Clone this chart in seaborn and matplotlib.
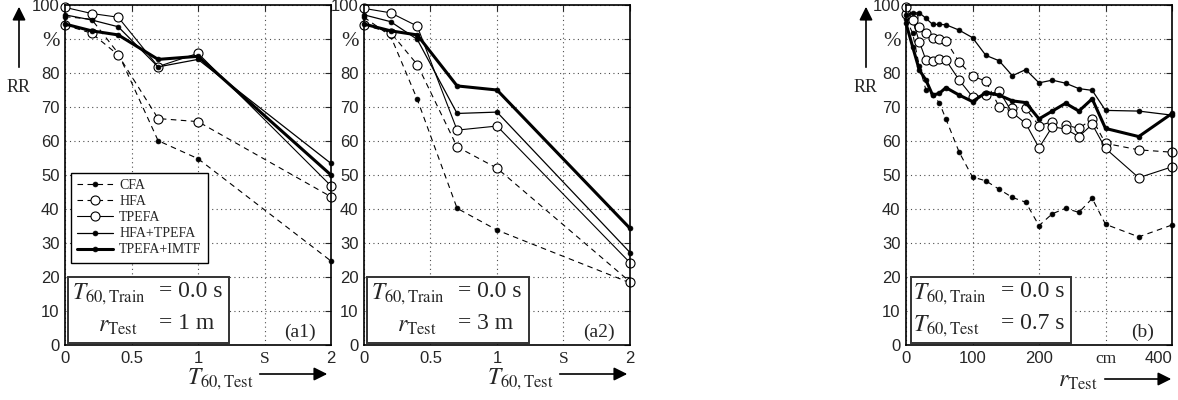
import matplotlib
matplotlib.use('Agg')
import matplotlib.pyplot as plt
import seaborn as sns
from matplotlib.patches import Rectangle, FancyArrowPatch

# panel (a1)/(a2): T60,Test in s
t60_test = [0, 0.2, 0.4, 0.7, 1.0, 2.0]

# (a1) r_Test = 1 m
a1_cfa = [96.6, 95.8, 85.8, 60.1, 54.8, 24.7]
a1_hfa = [94.1, 91.7, 85.3, 66.6, 65.7, 43.6]
a1_tpefa = [99.3, 97.5, 96.4, 81.9, 85.8, 46.8]
a1_hfa_tpefa = [97.1, 95.6, 93.6, 81.8, 84.0, 53.4]
a1_imtf = [94.4, 92.4, 91.2, 84.0, 84.9, 50.0]

# (a2) r_Test = 3 m
a2_cfa = [96.4, 90.9, 72.3, 40.2, 33.8, 18.3]
a2_hfa = [94.1, 91.9, 82.5, 58.3, 52.0, 18.6]
a2_tpefa = [99.0, 97.7, 93.8, 63.2, 64.4, 24.2]
a2_hfa_tpefa = [97.1, 95.1, 89.9, 68.1, 68.5, 27.2]
a2_imtf = [94.4, 92.4, 91.2, 76.2, 75.0, 34.3]

# panel (b): r_Test in cm
r_test = [0, 10, 20, 30, 40, 50, 60, 80, 100, 120, 140, 160, 180, 200, 220, 240, 260, 280, 300, 350, 400]
b_cfa = [96.0, 91.7, 82.0, 75.0, 73.5, 71.3, 66.5, 56.7, 49.4, 48.3, 45.8, 43.4, 42.0, 35.1, 38.6,
         40.2, 39.0, 43.1, 35.5, 31.8, 35.3]
b_hfa = [97.5, 96.5, 93.6, 91.7, 90.4, 89.9, 89.5, 83.2, 79.1, 77.6, 70.1, 69.6, 69.6, 64.5, 65.7,
         64.7, 63.7, 66.5, 59.3, 57.4, 56.7]
b_tpefa = [99.5, 95.5, 89.2, 83.8, 83.5, 84.2, 83.8, 77.9, 73.0, 73.5, 74.7, 68.3, 65.2, 58.0, 64.2,
           63.5, 61.3, 64.9, 57.8, 49.2, 52.4]
b_hfa_tpefa = [97.1, 97.7, 97.7, 96.1, 94.3, 94.3, 94.2, 92.6, 90.4, 85.2, 83.6, 79.2, 81.0, 77.1, 77.9,
               77.0, 75.4, 74.9, 69.0, 68.8, 67.6]
b_imtf = [94.6, 87.7, 80.9, 77.9, 73.5, 74.0, 75.7, 73.5, 71.6, 74.2, 73.5, 71.8, 71.3, 66.5, 68.8,
          71.1, 68.8, 72.4, 63.7, 61.3, 68.1]

labels = ['CFA', 'HFA', 'TPEFA', 'HFA+TPEFA', 'TPEFA+IMTF']
y_ticks = [0, 10, 20, 30, 40, 50, 60, 70, 80, 90, 100]
y_ticklabels = ['0', '10', '20', '30', '40', '50', '60', '70', '80', '%', '100']

dash = (0, (5, 4))
styles = {
    'CFA': dict(linestyle=dash, linewidth=0.8, marker='o', markersize=3.5,
                markerfacecolor='k', markeredgecolor='k', markeredgewidth=0.5),
    'HFA': dict(linestyle=dash, linewidth=0.8, marker='o', markersize=6.5,
                markerfacecolor='white', markeredgecolor='k', markeredgewidth=0.8),
    'TPEFA': dict(linestyle='-', linewidth=0.8, marker='o', markersize=6.5,
                  markerfacecolor='white', markeredgecolor='k', markeredgewidth=0.8),
    'HFA+TPEFA': dict(linestyle='-', linewidth=0.9, marker='o', markersize=3.5,
                      markerfacecolor='k', markeredgecolor='k', markeredgewidth=0.5),
    'TPEFA+IMTF': dict(linestyle='-', linewidth=2.2, marker='o', markersize=3.5,
                       markerfacecolor='k', markeredgecolor='k', markeredgewidth=0.5),
}

sns.set_style('white')
plt.rcParams['font.family'] = ['Liberation Sans', 'DejaVu Sans']
plt.rcParams['mathtext.fontset'] = 'stix'

W, H = 1178, 400
fig = plt.figure(figsize=(W / 100, H / 100), dpi=100)


def px_axes(left, right, top=5, bottom=345):
    return fig.add_axes([left / W, 1 - bottom / H, (right - left) / W, (bottom - top) / H])


def fxy(x, y):
    return x / W, 1 - y / H


def arrow(x0, y0, x1, y1):
    fig.patches.append(FancyArrowPatch(fxy(x0, y0), fxy(x1, y1), transform=fig.transFigure,
                                       arrowstyle='-|>', mutation_scale=20, color='k', lw=1.2))


def draw_panel(ax, x, series, xlim, xticks, xticklabels, legend=False):
    for lab, y in zip(labels, series):
        sns.lineplot(x=x, y=y, ax=ax, color='k', label=lab if legend else None,
                     errorbar=None, clip_on=False, **styles[lab])
    ax.set_xlim(*xlim)
    ax.set_ylim(0, 100)
    ax.set_xticks(xticks)
    ax.set_xticklabels(xticklabels)
    ax.set_yticks(y_ticks)
    ax.set_yticklabels(y_ticklabels)
    ax.set_xlabel('')
    ax.set_ylabel('')
    ax.grid(True, linestyle=(0, (1, 3)), color='0.3', linewidth=0.8)
    ax.tick_params(direction='in', length=4, top=True, right=True, labelsize=12, pad=4)
    for sp in ax.spines.values():
        sp.set_color('k')
        sp.set_linewidth(1.2)
    for t in ax.get_yticklabels():
        if t.get_text() == '%':
            t.set_fontfamily('Liberation Serif')
            t.set_fontsize(15)
    for t in ax.get_xticklabels():
        if t.get_text() in ('S', 'cm'):
            t.set_fontfamily('Liberation Serif')
            t.set_fontsize(12.5)
    if legend:
        leg = ax.legend(loc='upper left', bbox_to_anchor=(0.023, 0.506), borderaxespad=0,
                        prop={'family': 'Liberation Serif', 'size': 10}, handlelength=2.6,
                        handletextpad=0.4, labelspacing=0.22, borderpad=0.45,
                        fancybox=False, framealpha=1)
        leg.get_frame().set_edgecolor('k')
        leg.get_frame().set_linewidth(1.0)
        leg.set_zorder(10)
    elif ax.get_legend() is not None:
        ax.get_legend().remove()


def info_box(ax, x0, x1, rows, xeq, tag, xtag):
    ax.add_patch(Rectangle((x0, 0.6), x1 - x0, 19.4, facecolor='white', edgecolor='0.2',
                           lw=1.4, zorder=8))
    for (lhs, xl, rhs), yy in zip(rows, [14.8, 5.6]):
        ax.text(xl, yy, lhs, fontsize=17, va='center', ha='left', zorder=9)
        ax.text(xeq, yy + 0.8, rhs, fontsize=17, va='center', ha='left', zorder=9,
                family='Liberation Serif')
    ax.text(xtag, 3.8, tag, fontsize=14, va='center', ha='center', family='Liberation Serif',
            zorder=9)


ax1 = px_axes(65, 331)
draw_panel(ax1, t60_test, [a1_cfa, a1_hfa, a1_tpefa, a1_hfa_tpefa, a1_imtf],
           (0, 2), [0, 0.5, 1, 1.5, 2], ['0', '0.5', '1', 'S', '2'], legend=True)
info_box(ax1, 0.023, 1.233,
         [(r'$T_{60,\mathrm{Train}}$', 0.05, '= 0.0 s'), (r'$r_{\mathrm{Test}}$', 0.25, '= 1 m')],
         0.71, '(a1)', 1.77)

ax2 = px_axes(364, 630)
draw_panel(ax2, t60_test, [a2_cfa, a2_hfa, a2_tpefa, a2_hfa_tpefa, a2_imtf],
           (0, 2), [0, 0.5, 1, 1.5, 2], ['0', '0.5', '1', 'S', '2'])
info_box(ax2, 0.023, 1.241,
         [(r'$T_{60,\mathrm{Train}}$', 0.05, '= 0.0 s'), (r'$r_{\mathrm{Test}}$', 0.25, '= 3 m')],
         0.71, '(a2)', 1.77)

ax3 = px_axes(906, 1172)
draw_panel(ax3, r_test, [b_cfa, b_hfa, b_tpefa, b_hfa_tpefa, b_imtf],
           (0, 400), [0, 100, 200, 300, 400], ['0', '100', '200', 'cm', '400'])
ax3.get_xticklabels()[-1].set_horizontalalignment('right')
info_box(ax3, 7.5, 248,
         [(r'$T_{60,\mathrm{Train}}$', 10, '= 0.0 s'), (r'$T_{60,\mathrm{Test}}$', 10, '= 0.7 s')],
         143, '(b)', 356)

# axis labels with arrows
for xa in (19, 866):
    arrow(xa, 70, xa, 4)
    fig.text(*fxy(xa, 88), 'RR', fontsize=13, ha='center', va='center', family='Liberation Serif')

for xt, xa0, xa1 in ((220, 257, 330), (520, 557, 630)):
    fig.text(*fxy(xt, 379), r'$T_{60,\mathrm{Test}}$', fontsize=17, ha='center', va='center')
    arrow(xa0, 374, xa1, 374)

fig.text(*fxy(1078, 381), r'$r_{\mathrm{Test}}$', fontsize=17, ha='center', va='center')
arrow(1102, 379, 1174, 379)

fig.savefig('out.png', dpi=100)
